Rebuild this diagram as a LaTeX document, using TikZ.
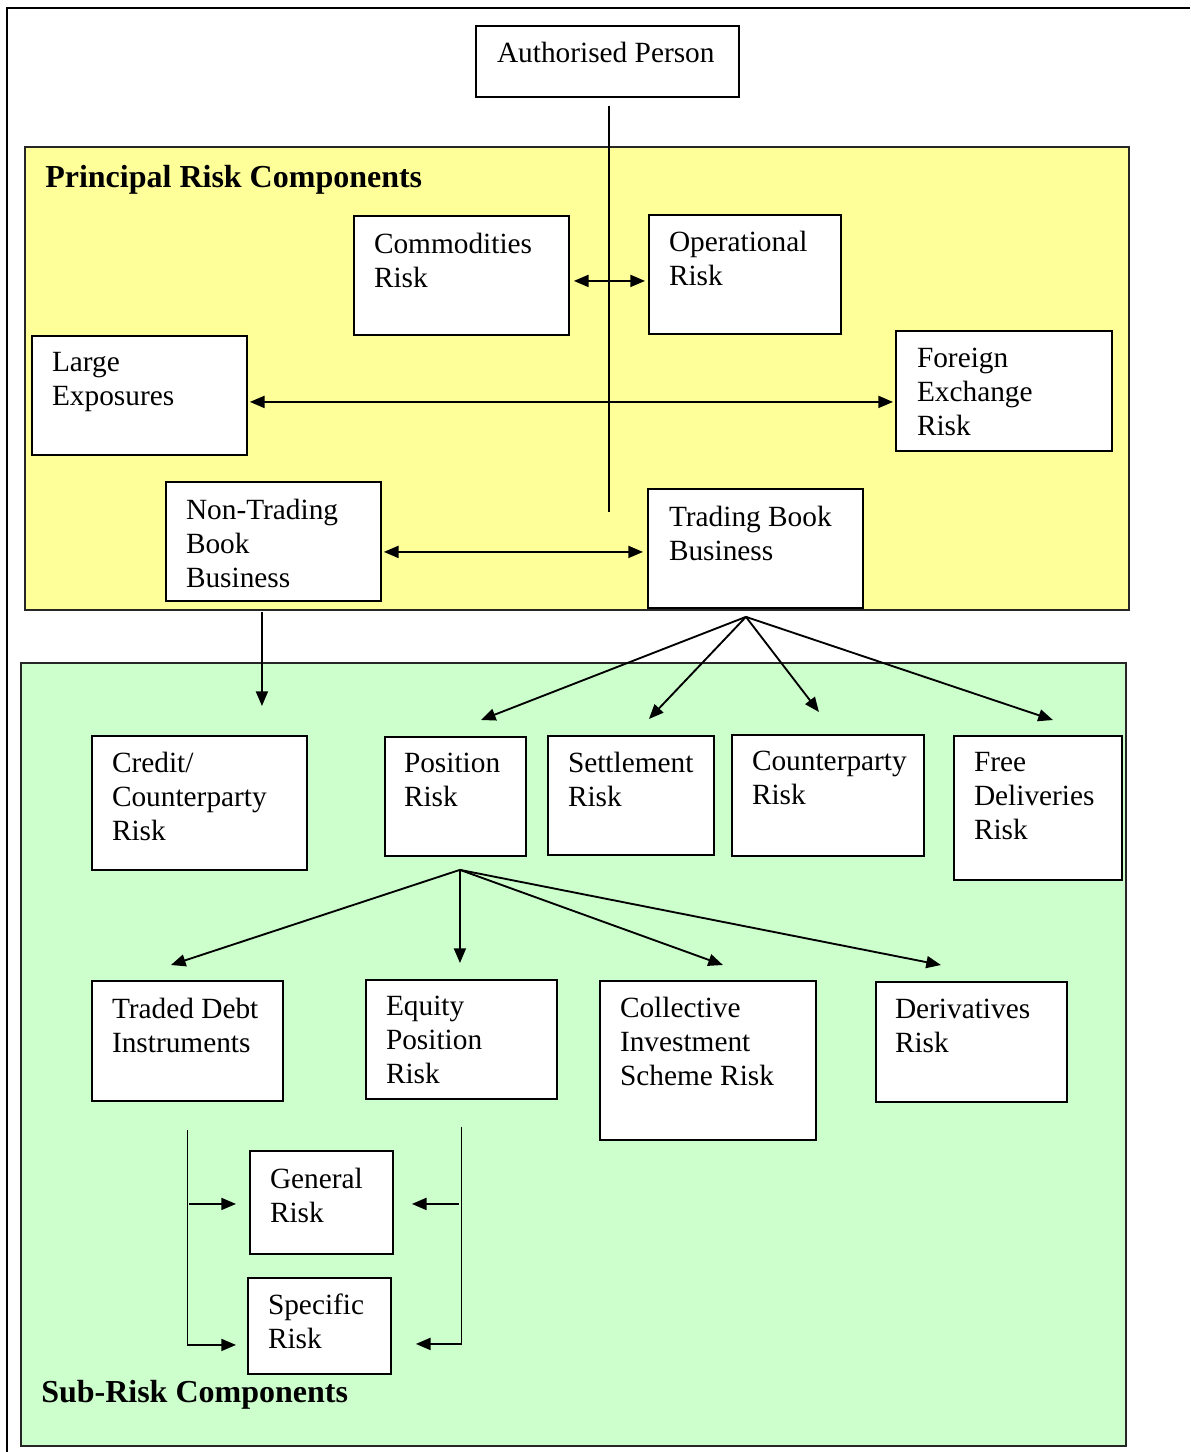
\documentclass[tikz,border=0pt]{standalone}
\usepackage{fontspec}
\setmainfont{Liberation Serif}
\usetikzlibrary{arrows.meta}

\definecolor{principal}{HTML}{FFFF99}
\definecolor{subrisk}{HTML}{CCFFCC}
\def\px{0.75pt}

\begin{document}
\begin{tikzpicture}[x=0.75pt, y=-0.75pt, >={Triangle[length=11pt,width=9pt]}]
			\tikzset{box/.style={draw, fill=white, line width=1.4pt, anchor=north west, inner sep=0}}
			\tikzset{txt/.style={anchor=north west, inner sep=0, outer sep=0, align=left,
					font=\fontsize{22}{25.5}\selectfont, execute at begin node=\strut}}
			\tikzset{title/.style={anchor=base west, inner sep=0, font=\bfseries\fontsize{24}{28}\selectfont}}
			\tikzset{panel/.style={draw=black!85, line width=1.6pt, anchor=north west, inner sep=0}}
			\tikzset{edge/.style={line width=1.4pt}}
			\useasboundingbox (0,0) rectangle (1190,1452);
			\draw[line width=2.2pt] (7,1452) -- (7,8) -- (1190,8);
			% panels
			\node[panel, fill=principal, minimum width=1104*\px, minimum height=463*\px] (prc) at (24,146) {};
			\node[panel, fill=subrisk, minimum width=1105*\px, minimum height=783*\px] (sub) at (20,662) {};
			\node[title] (prc-t) at (45,187) {Principal Risk Components};
			\node[title] (sub-t) at (41,1402) {Sub-Risk Components};
			% top
			\node[box, minimum width=263*\px, minimum height=71*\px] (auth) at (475,25) {};
			\node[txt] (auth-t) at ([shift={(22,14)}]auth.north west) {Authorised Person};
			% principal risk components
			\node[box, minimum width=215*\px, minimum height=119*\px] (comm) at (353,215) {};
			\node[txt] (comm-t) at ([shift={(21,18)}]comm.north west) {Commodities\\Risk};
			\node[box, minimum width=192*\px, minimum height=119*\px] (oper) at (648,214) {};
			\node[txt] (oper-t) at ([shift={(21,17)}]oper.north west) {Operational\\Risk};
			\node[box, minimum width=215*\px, minimum height=119*\px] (large) at (31,335) {};
			\node[txt] (large-t) at ([shift={(21,17)}]large.north west) {Large\\Exposures};
			\node[box, minimum width=216*\px, minimum height=120*\px] (forex) at (895,330) {};
			\node[txt] (forex-t) at ([shift={(22,18)}]forex.north west) {Foreign\\Exchange\\Risk};
			\node[box, minimum width=215*\px, minimum height=119*\px] (nontrade) at (165,481) {};
			\node[txt] (nontrade-t) at ([shift={(21,18)}]nontrade.north west) {Non-Trading\\Book\\Business};
			\node[box, minimum width=215*\px, minimum height=119*\px] (trade) at (647,488) {};
			\node[txt] (trade-t) at ([shift={(22,18)}]trade.north west) {Trading Book\\Business};
			% sub-risk components
			\node[box, minimum width=215*\px, minimum height=134*\px] (credit) at (91,735) {};
			\node[txt] (credit-t) at ([shift={(21,17)}]credit.north west) {Credit/\\Counterparty\\Risk};
			\node[box, minimum width=141*\px, minimum height=119*\px] (posn) at (384,736) {};
			\node[txt] (posn-t) at ([shift={(20,17)}]posn.north west) {Position\\Risk};
			\node[box, minimum width=166*\px, minimum height=119*\px] (settle) at (547,735) {};
			\node[txt] (settle-t) at ([shift={(21,17)}]settle.north west) {Settlement\\Risk};
			\node[box, minimum width=192*\px, minimum height=121*\px] (cparty) at (731,734) {};
			\node[txt] (cparty-t) at ([shift={(21,17)}]cparty.north west) {Counterparty\\Risk};
			\node[box, minimum width=168*\px, minimum height=144*\px] (free) at (953,735) {};
			\node[txt] (free-t) at ([shift={(21,17)}]free.north west) {Free\\Deliveries\\Risk};
			\node[box, minimum width=191*\px, minimum height=120*\px] (debt) at (91,980) {};
			\node[txt] (debt-t) at ([shift={(21,18)}]debt.north west) {Traded Debt\\Instruments};
			\node[box, minimum width=191*\px, minimum height=119*\px] (equity) at (365,979) {};
			\node[txt] (equity-t) at ([shift={(21,17)}]equity.north west) {Equity\\Position\\Risk};
			\node[box, minimum width=216*\px, minimum height=159*\px] (cis) at (599,980) {};
			\node[txt] (cis-t) at ([shift={(21,17)}]cis.north west) {Collective\\Investment\\Scheme Risk};
			\node[box, minimum width=191*\px, minimum height=120*\px] (deriv) at (875,981) {};
			\node[txt] (deriv-t) at ([shift={(20,18)}]deriv.north west) {Derivatives\\Risk};
			\node[box, minimum width=143*\px, minimum height=103*\px] (general) at (249,1150) {};
			\node[txt] (general-t) at ([shift={(21,18)}]general.north west) {General\\Risk};
			\node[box, minimum width=143*\px, minimum height=96*\px] (specific) at (247,1277) {};
			\node[txt] (specific-t) at ([shift={(21,17)}]specific.north west) {Specific\\Risk};
			% connectors
			\coordinate (stem) at (609,512);
			\draw[edge] ([yshift=-6pt]auth.south -| stem) -- (stem);
			\draw[edge, <->] ([shift={(4,5.5)}]comm.east) -- ([shift={(-3,6.5)}]oper.west);
			\draw[edge, <->] ([shift={(2,6.5)}]large.east) -- ([shift={(-2,11)}]forex.west);
			\draw[edge, <->] ([shift={(2,10.5)}]nontrade.east) -- ([shift={(-4,3.5)}]trade.west);
			\draw[edge, ->] ([shift={(-11.5,10)}]nontrade.south) -- ([shift={(62.5,-29)}]credit.north);
			\coordinate (tapex) at ([shift={(-9.5,8)}]trade.south);
			\draw[edge, ->] (tapex) -- ([shift={(25.5,-16)}]posn.north);
			\draw[edge, ->] (tapex) -- ([shift={(18,-16)}]settle.north);
			\draw[edge, ->] (tapex) -- ([shift={(-9,-22)}]cparty.north);
			\draw[edge, ->] (tapex) -- ([shift={(15,-15)}]free.north);
			\coordinate (papex) at ([shift={(4.5,13)}]posn.south);
			\draw[edge, ->] (papex) -- ([shift={(-16.5,-15)}]debt.north);
			\draw[edge, ->] (papex) -- ([shift={(-1.5,-16)}]equity.north);
			\draw[edge, ->] (papex) -- ([shift={(15,-15)}]cis.north);
			\draw[edge, ->] (papex) -- ([shift={(-30.5,-16)}]deriv.north);
			\coordinate (genin) at ([shift={(-13,1.5)}]general.west);
			\coordinate (genout) at ([shift={(18,1.5)}]general.east);
			\draw[edge, ->] ([yshift=-21pt]debt.south) |- ([shift={(-11,19)}]specific.west);
			\draw[edge, ->] ([xshift=1.5pt]debt.south |- genin) -- (genin);
			\draw[edge, ->] ([yshift=-20pt]equity.south) |- ([shift={(24,18)}]specific.east);
			\draw[edge, ->] ([xshift=-2pt]equity.south |- genout) -- (genout);
		\end{tikzpicture}
\end{document}
